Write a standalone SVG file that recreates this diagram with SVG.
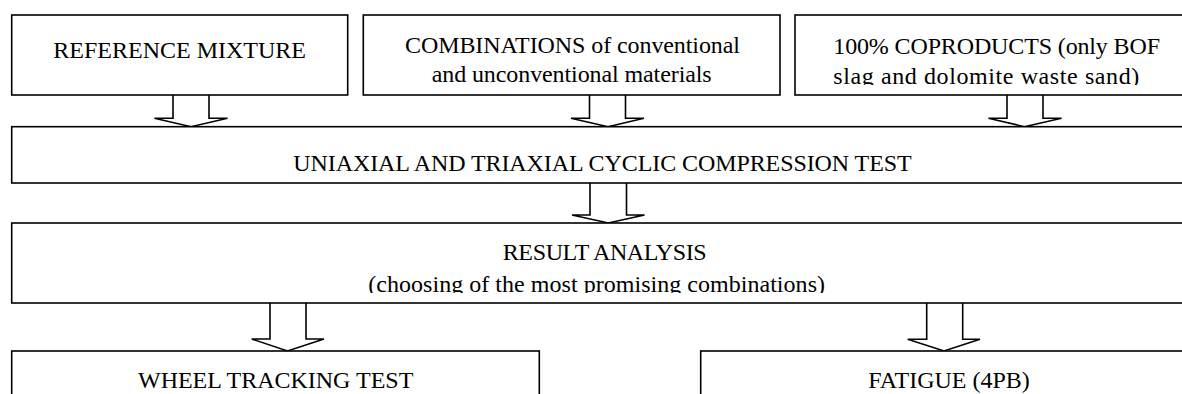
<svg xmlns="http://www.w3.org/2000/svg" width="1182" height="394" viewBox="0 0 1182 394">
<style>
.box{fill:#fff;stroke:#000;stroke-width:1.6}
.arr{fill:#fff;stroke:#000;stroke-width:1.6;stroke-linejoin:miter}
.t{font-family:"Liberation Serif","Times New Roman",serif;font-size:24px;fill:#000}
</style>
<defs>
<clipPath id="c3"><rect x="790" y="10" width="420" height="75"/></clipPath>
<clipPath id="c5"><rect x="10" y="220" width="1190" height="73"/></clipPath>
</defs>
<rect width="1182" height="394" fill="#fff"/>
<g id="connectors">
<path class="arr" d="M173,95 V118.3 H154.5 L191,126.7 L227.5,118.3 H209 V95"/>
<path class="arr" d="M589.5,95 V118.3 H571 L608,126.7 L644,118.3 H625.5 V95"/>
<path class="arr" d="M1007,95 V118.3 H988.5 L1024.5,126.7 L1061.5,118.3 H1043 V95"/>
<path class="arr" d="M590,183 V215 H572 L608.3,223 L644.5,215 H626.5 V183"/>
<path class="arr" d="M270,303 V339 H251.7 L287.5,351 L324,339 H306 V303"/>
<path class="arr" d="M926.7,303 V339.3 H907.7 L944,351 L980,339.3 H962.7 V303"/>
</g>
<g id="n-reference">
<rect class="box" x="11.7" y="15" width="336" height="80"/>
<text class="t" x="53.3" y="58.3" textLength="252.7" lengthAdjust="spacing">REFERENCE MIXTURE</text>
</g>
<g id="n-combinations">
<rect class="box" x="363.3" y="15" width="416.7" height="80"/>
<text class="t" x="405" y="52.7" textLength="335" lengthAdjust="spacing">COMBINATIONS of conventional</text>
<text class="t" x="431.7" y="81.7" textLength="280" lengthAdjust="spacing">and unconventional materials</text>
</g>
<g id="n-coproducts">
<rect class="box" x="795" y="15" width="410" height="80"/>
<text class="t" x="833.3" y="54" textLength="326.7" lengthAdjust="spacing">100% COPRODUCTS (only BOF</text>
<text class="t" x="833.3" y="84" textLength="306" lengthAdjust="spacing" clip-path="url(#c3)">slag and dolomite waste sand)</text>
</g>
<g id="n-compression">
<rect class="box" x="11.7" y="126.7" width="1193" height="56.3"/>
<text class="t" x="293.3" y="170.7" textLength="618.4" lengthAdjust="spacing">UNIAXIAL AND TRIAXIAL CYCLIC COMPRESSION TEST</text>
</g>
<g id="n-result">
<rect class="box" x="11.7" y="223" width="1193" height="80"/>
<text class="t" x="502.7" y="260" textLength="204" lengthAdjust="spacing">RESULT ANALYSIS</text>
<text class="t" x="368.3" y="292" textLength="456.7" lengthAdjust="spacing" clip-path="url(#c5)">(choosing of the most promising combinations)</text>
</g>
<g id="n-wheel">
<rect class="box" x="11.7" y="351" width="527.6" height="60"/>
<text class="t" x="138" y="387.7" textLength="275.3" lengthAdjust="spacing">WHEEL TRACKING TEST</text>
</g>
<g id="n-fatigue">
<rect class="box" x="700.7" y="351" width="504" height="60"/>
<text class="t" x="868.3" y="388.3">FATIGUE (4PB)</text>
</g>
</svg>
